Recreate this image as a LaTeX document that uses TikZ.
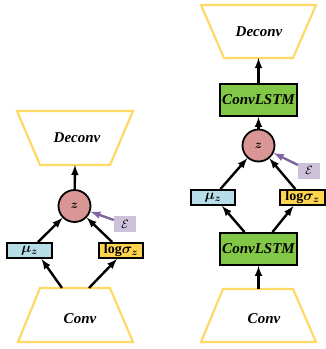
\documentclass[tikz,border=0pt]{standalone}
\usepackage{fontspec}
\setmainfont{Liberation Serif}
\usepackage{amsmath}
\usepackage{tikz}
\usepackage{color}

\definecolor{trapline}{RGB}{255,217,102}
\definecolor{zpink}{RGB}{217,150,148}
\definecolor{meanblue}{RGB}{183,222,232}
\definecolor{varyellow}{RGB}{255,213,79}
\definecolor{lstmgreen}{RGB}{130,200,70}
\definecolor{noisebox}{RGB}{204,193,218}
\definecolor{noiseline}{RGB}{128,100,162}

\begin{document}
\begin{tikzpicture}
[
  x=1pt, y=-1pt,
	trap/.style={line width=2.2pt,draw=trapline},
	lbl/.style={font=\fontsize{15}{17}\selectfont\bfseries\itshape},
	lat/.style={circle,draw,line width=1.8pt,fill=zpink,minimum size=32pt,inner sep=0pt,font=\fontsize{13}{15}\selectfont\boldmath},
	mean/.style={draw,line width=2.4pt,fill=meanblue,minimum width=44.5pt,minimum height=14.5pt,inner sep=0pt,font=\fontsize{14}{16}\selectfont\boldmath},
	var/.style={mean,fill=varyellow},
	lstm/.style={draw,line width=2.4pt,fill=lstmgreen,minimum width=76.5pt,minimum height=31.5pt,inner sep=0pt,lbl},
	noise/.style={fill=noisebox,minimum width=22pt,minimum height=16pt,inner sep=0pt,font=\fontsize{13}{15}\selectfont},
	flow/.style={->,>=latex,line width=2.4pt},
	eflow/.style={->,>=latex,line width=2.4pt,draw=noiseline}
]
\useasboundingbox (0,0) rectangle (325,349);

\draw [trap] (17,111) -- (133,111) -- (110,165) -- (40,165) -- cycle;
\node (dec1) at(77,138) [lbl] {Deconv};
\coordinate (dec1b) at(75,165);

\node (z1) at(74.5,206) [lat] {$z$};
\node (eps1) at(125,224) [noise] {$\mathcal{E}$};
\node (mu1) at(29.5,250.5) [mean] {$\mu_z$};
\node (sig1) at(121,250.5) [var] {$\log\!\sigma_z$};

\draw [trap] (40,288) -- (110,288) -- (133,342) -- (18,342) -- cycle;
\node (conv1) at(80,319) [lbl] {Conv};
\coordinate (conv1a) at(62,288);
\coordinate (conv1b) at(89,288);

\draw [flow] (z1) -- (dec1b);
\draw [flow] (mu1) -- (z1);
\draw [flow] (sig1) -- (z1);
\draw [flow] (conv1a) -- ([xshift=12pt]mu1.south);
\draw [flow] (conv1b) -- ([xshift=-4pt]sig1.south);
\draw [eflow] (eps1) -- (z1);


\draw [trap] (201,5) -- (316,5) -- (293,58) -- (224,58) -- cycle;
\node (dec2) at(259,32) [lbl] {Deconv};
\coordinate (dec2b) at(258.5,58);

\node (lstm2) at(258.5,100) [lstm] {ConvLSTM};
\node (z2) at(258.5,145.5) [lat] {$z$};
\node (eps2) at(309,170.5) [noise] {$\mathcal{E}$};
\node (mu2) at(213,197.5) [mean] {$\mu_z$};
\node (sig2) at(302.5,197.5) [var] {$\log\!\sigma_z$};
\node (lstm1) at(258.5,249) [lstm] {ConvLSTM};

\draw [trap] (223,289) -- (293,289) -- (316,342) -- (201,342) -- cycle;
\node (conv2) at(264,319) [lbl] {Conv};
\coordinate (conv2a) at(258.5,289);

\draw [flow] (lstm2) -- (dec2b);
\draw [flow] (z2) -- (lstm2);
\draw [flow] (mu2) -- (z2);
\draw [flow] (sig2) -- (z2);
\draw [flow] ([xshift=-14pt]lstm1.north) -- ([xshift=9pt]mu2.south);
\draw [flow] ([xshift=14pt]lstm1.north) -- ([xshift=-9pt]sig2.south);
\draw [flow] (conv2a) -- (lstm1);
\draw [eflow] (eps2) -- (z2);

\end{tikzpicture}
\end{document}
